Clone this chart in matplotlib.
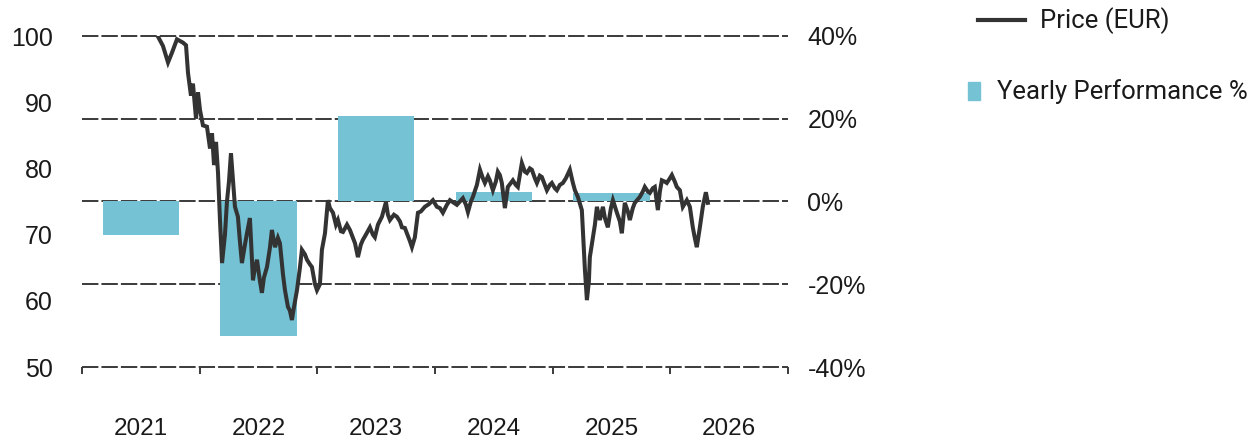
import matplotlib.pyplot as plt
from matplotlib.lines import Line2D
from matplotlib.patches import Rectangle

plt.rcParams['font.family'] = ['Liberation Sans', 'DejaVu Sans']
plt.rcParams['lines.scale_dashes'] = False

# yearly performance bars (percent)
years = [2021, 2022, 2023, 2024, 2025]
perf = [-8.1, -32.5, 20.7, 2.4, 2.0]

# price series, decimal year -> EUR
t = [2021.646, 2021.688, 2021.731, 2021.765, 2021.807, 2021.858, 2021.884, 2021.901,
     2021.926, 2021.943, 2021.969, 2021.986, 2022.003, 2022.028, 2022.062, 2022.088,
     2022.105, 2022.122, 2022.139, 2022.156, 2022.173, 2022.190, 2022.215, 2022.232,
     2022.249, 2022.266, 2022.283, 2022.300, 2022.325, 2022.342, 2022.359, 2022.385,
     2022.402, 2022.427, 2022.453, 2022.470, 2022.487, 2022.512, 2022.529, 2022.546,
     2022.572, 2022.597, 2022.614, 2022.640, 2022.665, 2022.682, 2022.708, 2022.725,
     2022.750, 2022.767, 2022.784, 2022.801, 2022.827, 2022.852, 2022.869, 2022.895,
     2022.912, 2022.937, 2022.954, 2022.980, 2022.997, 2023.022, 2023.039, 2023.065,
     2023.090, 2023.107, 2023.133, 2023.158, 2023.175, 2023.201, 2023.218, 2023.252,
     2023.277, 2023.303, 2023.320, 2023.345, 2023.370, 2023.387, 2023.413, 2023.447,
     2023.472, 2023.489, 2023.515, 2023.549, 2023.583, 2023.600, 2023.617, 2023.651,
     2023.676, 2023.702, 2023.719, 2023.744, 2023.761, 2023.787, 2023.804, 2023.829,
     2023.855, 2023.880, 2023.914, 2023.948, 2023.982, 2024.016, 2024.042, 2024.067,
     2024.101, 2024.127, 2024.161, 2024.186, 2024.212, 2024.237, 2024.263, 2024.280,
     2024.305, 2024.322, 2024.356, 2024.382, 2024.407, 2024.424, 2024.450, 2024.466,
     2024.492, 2024.517, 2024.534, 2024.551, 2024.568, 2024.594, 2024.619, 2024.645,
     2024.662, 2024.687, 2024.704, 2024.721, 2024.738, 2024.764, 2024.781, 2024.806,
     2024.823, 2024.849, 2024.866, 2024.891, 2024.908, 2024.934, 2024.951, 2024.976,
     2024.993, 2025.019, 2025.036, 2025.061, 2025.087, 2025.112, 2025.146, 2025.172,
     2025.189, 2025.214, 2025.248, 2025.265, 2025.274, 2025.291, 2025.308, 2025.316,
     2025.342, 2025.359, 2025.376, 2025.401, 2025.427, 2025.444, 2025.469, 2025.495,
     2025.512, 2025.546, 2025.571, 2025.588, 2025.613, 2025.639, 2025.656, 2025.681,
     2025.698, 2025.741, 2025.766, 2025.783, 2025.809, 2025.826, 2025.851, 2025.868,
     2025.894, 2025.911, 2025.928, 2025.953, 2025.970, 2025.996, 2026.013, 2026.038,
     2026.055, 2026.081, 2026.106, 2026.140, 2026.166, 2026.191, 2026.208, 2026.225,
     2026.251, 2026.276, 2026.302, 2026.319]
price = [99.9, 98.5, 96.0, 97.5, 99.5, 99.0, 98.6, 94.4,
         91.0, 92.8, 87.5, 91.5, 88.8, 86.5, 86.3, 83.0,
         85.3, 80.5, 84.0, 79.3, 72.0, 65.7, 70.0, 75.0,
         78.0, 82.3, 78.2, 74.2, 72.7, 69.0, 65.7, 68.5,
         70.2, 72.5, 63.1, 65.0, 66.2, 63.0, 61.2, 63.5,
         65.1, 68.0, 70.7, 68.1, 69.5, 68.7, 64.0, 61.6,
         59.1, 58.5, 57.1, 59.0, 61.6, 65.0, 67.7, 67.0,
         66.2, 65.5, 65.1, 62.5, 61.6, 62.5, 67.7, 70.2,
         75.2, 74.0, 73.3, 71.5, 72.2, 70.5, 70.4, 71.5,
         70.7, 69.5, 68.7, 66.6, 68.5, 69.2, 70.0, 71.1,
         70.0, 69.6, 71.5, 72.7, 74.9, 73.0, 72.2, 73.0,
         72.7, 72.0, 71.1, 71.0, 70.2, 69.0, 68.1, 69.6,
         73.3, 73.5, 74.2, 74.6, 75.2, 74.2, 74.0, 73.3,
         74.5, 75.2, 74.8, 74.5, 75.0, 75.5, 74.5, 73.4,
         75.0, 75.7, 77.5, 79.8, 78.5, 77.8, 78.8, 78.2,
         76.7, 78.0, 79.5, 79.0, 77.8, 74.0, 77.2, 77.8,
         78.2, 77.5, 77.2, 79.0, 80.8, 79.5, 79.3, 80.0,
         79.8, 78.5, 77.8, 78.9, 78.7, 77.5, 76.7, 77.5,
         77.8, 77.0, 76.7, 77.5, 77.8, 78.5, 79.8, 77.8,
         76.7, 75.7, 73.7, 68.0, 64.7, 60.1, 63.0, 66.6,
         69.6, 71.5, 74.2, 72.2, 74.2, 72.5, 71.1, 74.0,
         75.2, 73.3, 72.0, 70.2, 74.8, 73.5, 72.2, 74.0,
         74.8, 75.7, 76.5, 77.2, 76.5, 76.3, 77.0, 77.2,
         73.7, 76.5, 78.2, 78.0, 77.8, 78.5, 79.0, 78.0,
         77.2, 76.7, 74.2, 75.2, 74.2, 71.1, 69.5, 68.1,
         71.1, 74.2, 76.4, 74.8]

year_labels = ['2021', '2022', '2023', '2024', '2025', '2026']
left_ticks = [50, 60, 70, 80, 90, 100]
right_ticks = [-40, -20, 0, 20, 40]

line_color = '#333333'
bar_color = '#74c2d4'
text_color = '#1a1a1a'
grid_color = '#3a3a3a'

fig = plt.figure(figsize=(12.53, 4.40), dpi=100)
ax = fig.add_axes([82 / 1253, 1 - 367 / 440, (788 - 82) / 1253, (367 - 36) / 440])
ax2 = ax.twinx()
ax.set_zorder(ax2.get_zorder() + 1)
ax.patch.set_visible(False)

# dashed gridlines at the percent ticks, below the bars
for v in right_ticks:
    ax2.axhline(v, color=grid_color, linestyle=(0, (11.8, 2.2)), linewidth=1.4,
                clip_on=False, zorder=1)

# bars on the percent axis
ax2.bar([y + 0.5 for y in years], perf, width=0.65, color=bar_color, zorder=2)
ax2.set_ylim(-40, 40)
ax2.set_yticks(right_ticks)
ax2.set_yticklabels([f'{v}%' for v in right_ticks])

# price line
ax.plot(t, price, color=line_color, linewidth=2.9, solid_joinstyle='miter', zorder=3)
ax.set_ylim(50, 100)
ax.set_yticks(left_ticks)
ax.set_xlim(2021, 2027)

ax.set_xticks(range(2021, 2028))
ax.set_xticklabels([])
ax.set_xticks([y + 0.5 for y in range(2021, 2027)], minor=True)
ax.set_xticklabels(year_labels, minor=True)
ax.tick_params(axis='x', which='major', length=5, width=1.4, color=grid_color, direction='out')
ax.tick_params(axis='x', which='minor', length=0, pad=37, labelsize=17.5, labelcolor=text_color)
ax.tick_params(axis='y', length=0, pad=21, labelsize=18, labelcolor=text_color)
ax2.tick_params(axis='y', length=0, pad=14, labelsize=18, labelcolor=text_color)

for a in (ax, ax2):
    for s in a.spines.values():
        s.set_visible(False)

# legend drawn by hand to match placement
fig.add_artist(Line2D([978 / 1253, 1025 / 1253], [1 - 20 / 440, 1 - 20 / 440],
                      color=line_color, linewidth=3, transform=fig.transFigure))
fig.text(1040 / 1253, 1 - 21 / 440, 'Price (EUR)', fontsize=18.5, va='center', ha='left',
         color=text_color, family=['Roboto', 'DejaVu Sans'])
fig.add_artist(Rectangle((968 / 1253, 1 - 100 / 440), 12 / 1253, 18 / 440,
                         color=bar_color, transform=fig.transFigure))
fig.text(997 / 1253, 1 - 92 / 440, 'Yearly Performance %', fontsize=18.5, va='center', ha='left',
         color=text_color, family=['Roboto', 'DejaVu Sans'])

plt.savefig('out.png', dpi=100)
plt.close()
